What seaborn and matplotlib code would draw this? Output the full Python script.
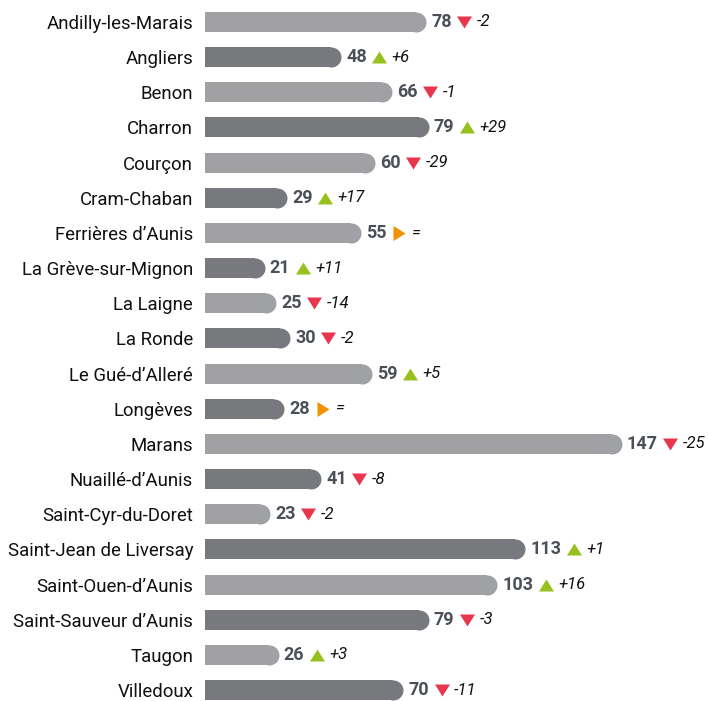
import numpy as np
import pandas as pd
import matplotlib
matplotlib.use('Agg')
import matplotlib.pyplot as plt
import seaborn as sns

# data
communes = ['Andilly-les-Marais', 'Angliers', 'Benon', 'Charron', 'Courçon',
            'Cram-Chaban', 'Ferrières d\u2019Aunis', 'La Grève-sur-Mignon',
            'La Laigne', 'La Ronde', 'Le Gué-d\u2019Alleré', 'Longèves',
            'Marans', 'Nuaillé-d\u2019Aunis', 'Saint-Cyr-du-Doret',
            'Saint-Jean de Liversay', 'Saint-Ouen-d\u2019Aunis',
            'Saint-Sauveur d\u2019Aunis', 'Taugon', 'Villedoux']
values = [78, 48, 66, 79, 60, 29, 55, 21, 25, 30, 59, 28, 147, 41, 23,
          113, 103, 79, 26, 70]
changes = [-2, 6, -1, 29, -29, 17, 0, 11, -14, -2, 5, 0, -25, -8, -2,
           1, 16, -3, 3, -11]

LIGHT = '#a0a1a5'
DARK = '#77797e'
NUM_COLOR = '#4b5058'
UP = '#97c11e'
DOWN = '#e8364e'
EQ = '#f39200'

df = pd.DataFrame({'Commune': communes, 'Value': values, 'Change': changes})
palette = {c: (LIGHT if i % 2 == 0 else DARK) for i, c in enumerate(communes)}

plt.rcParams['font.family'] = ['Roboto', 'DejaVu Sans']

fig = plt.figure(figsize=(7.08, 7.01), dpi=100)
ax = fig.add_axes([205 / 708, 0, 503 / 708, 1])

px_per_unit = 2.835
bar_h_px = 20
row_px = 35.16
cap_r = (bar_h_px / 2) / px_per_unit

sns.barplot(df, x='Value', y='Commune', hue='Commune', palette=palette,
            width=bar_h_px / row_px, legend=False, ax=ax, linewidth=0)

ax.set_xlim(0, 503 / px_per_unit)
ax.set_ylim(679 / row_px, -22 / row_px)

# round the right end of each bar
for i, p in enumerate(ax.patches):
    w = p.get_width()
    p.set_width(w - cap_r)
    ax.scatter([w - cap_r], [i], s=(bar_h_px * 0.72) ** 2, marker='o',
               color=palette[communes[i]], linewidths=0, zorder=p.get_zorder())

sns.despine(ax=ax, left=True, bottom=True)
ax.set_xticks([])
ax.set_xlabel('')
ax.set_ylabel('')
ax.tick_params(axis='y', length=0, pad=8.5, labelsize=13.4, labelcolor='#111111')

value_texts = []
for i, v in enumerate(values):
    t = ax.annotate(str(v), xy=(v, i), xytext=(3.6, 0), textcoords='offset points',
                    ha='left', va='center', fontsize=13, fontweight='bold',
                    color=NUM_COLOR)
    value_texts.append(t)

fig.canvas.draw()
renderer = fig.canvas.get_renderer()
inv = ax.transData.inverted()

down_tri = [(-1, 0.8), (1, 0.8), (0, -0.8), (-1, 0.8)]
up_tri = [(-1, -0.8), (1, -0.8), (0, 0.8), (-1, -0.8)]
right_tri = [(-0.8, -1), (-0.8, 1), (0.8, 0), (-0.8, -1)]

for i, (t, c) in enumerate(zip(value_texts, changes)):
    bb = t.get_window_extent(renderer)
    y_disp = ax.transData.transform((0, i))[1]
    mx = inv.transform((bb.x1 + 5 + 7.5, y_disp))[0]
    if c > 0:
        verts, col, label = up_tri, UP, '+%d' % c
    elif c < 0:
        verts, col, label = down_tri, DOWN, '-%d' % abs(c)
    else:
        verts, col, label = right_tri, EQ, '='
    ax.scatter([mx], [i], marker=verts, s=(15 * 0.72) ** 2, color=col,
               linewidths=0, clip_on=False, zorder=5)
    tx = inv.transform((bb.x1 + 5 + 15 + 5, y_disp))[0]
    ax.text(tx, i, label, ha='left', va='center', fontsize=12,
            fontstyle='italic', color='#111111')

fig.savefig('out.png', dpi=100)
